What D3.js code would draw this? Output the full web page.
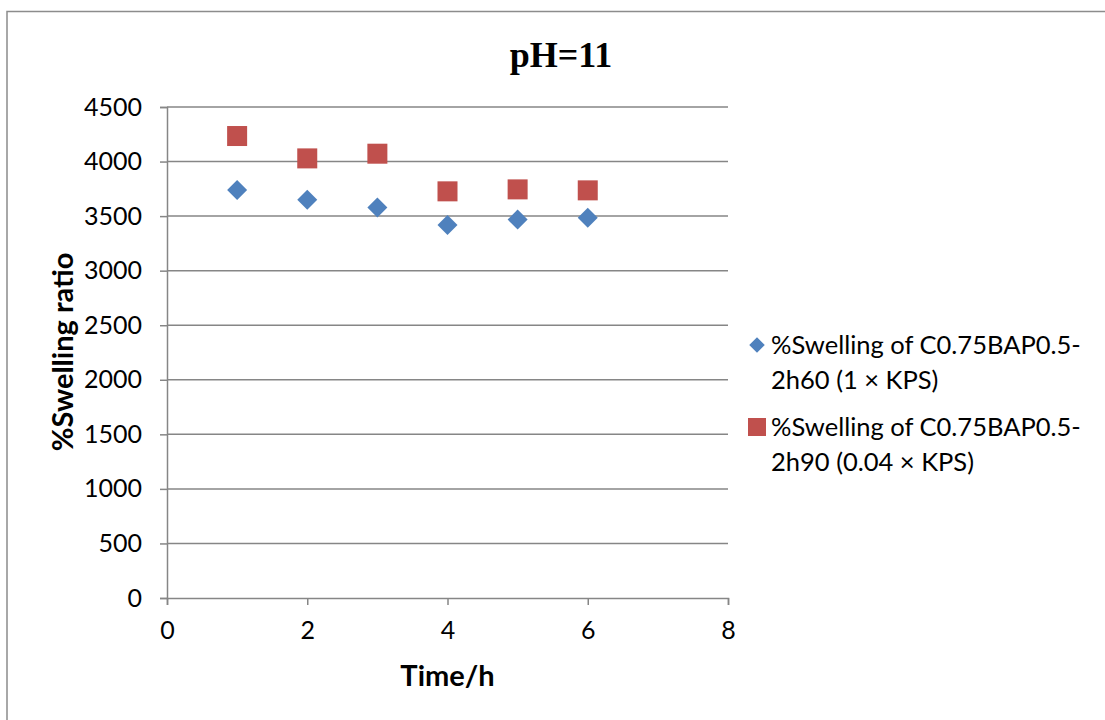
<!DOCTYPE html>
<html><head><meta charset="utf-8">
<script src="https://cdn.jsdelivr.net/npm/d3@7"></script>
<style>body{margin:0;background:#fff}svg{display:block}</style>
</head><body>
<svg id="c" width="1105" height="720"></svg>
<script>
const time = [1, 2, 3, 4, 5, 6];
const swelling60 = [3740, 3651, 3580, 3419, 3468, 3486];
const swelling90 = [4234, 4029, 4072, 3727, 3745, 3736];
const xTicks = [0, 2, 4, 6, 8];
const yTicks = [0, 500, 1000, 1500, 2000, 2500, 3000, 3500, 4000, 4500];

const svg = d3.select("#c");
const font = "Lato, 'Open Sans', sans-serif";
const blue = "#4F81BD", red = "#C0504D", grid = "#868686";

svg.append("rect").attr("x", 7).attr("y", 11.5).attr("width", 1110).attr("height", 720)
  .attr("fill", "none").attr("stroke", "#8c8c8c").attr("stroke-width", 1.5);

const x = d3.scaleLinear().domain([0, 8]).range([167, 728]);
const y = d3.scaleLinear().domain([0, 4500]).range([598, 107]);

svg.append("g").selectAll("line").data(yTicks.filter(d => d > 0)).join("line")
  .attr("x1", 167).attr("x2", 728).attr("y1", d => y(d)).attr("y2", d => y(d))
  .attr("stroke", grid).attr("stroke-width", 1.5);

const yAxis = svg.append("g").attr("transform", "translate(167,0)")
  .call(d3.axisLeft(y).tickValues(yTicks).tickFormat(d3.format("d")).tickSize(7).tickPadding(18));
const xAxis = svg.append("g").attr("transform", "translate(0,598)")
  .call(d3.axisBottom(x).tickValues(xTicks).tickFormat(d3.format("d")).tickSize(7).tickPadding(16));
[yAxis, xAxis].forEach(a => {
  a.selectAll("path, line").attr("stroke", grid).attr("stroke-width", 1.5);
  a.selectAll("text").attr("font-family", font).attr("font-size", 25).attr("fill", "#000");
});

svg.append("text").attr("x", 561).attr("y", 67).attr("text-anchor", "middle")
  .attr("font-family", "'Liberation Serif', 'Times New Roman', serif").attr("font-weight", "bold")
  .attr("font-size", 36).text("pH=11");

svg.append("text").attr("transform", "translate(73,352) rotate(-90)").attr("text-anchor", "middle")
  .attr("font-family", font).attr("font-weight", "bold").attr("font-size", 29).text("%Swelling ratio");
svg.append("text").attr("x", 447.5).attr("y", 686).attr("text-anchor", "middle")
  .attr("font-family", font).attr("font-weight", "bold").attr("font-size", 29).text("Time/h");

const diamond = d3.symbol().type(d3.symbolSquare).size(200);
svg.append("g").selectAll("path").data(time).join("path")
  .attr("d", diamond)
  .attr("transform", (d, i) => `translate(${x(d)},${y(swelling60[i])}) rotate(45)`)
  .attr("fill", blue);
svg.append("g").selectAll("rect").data(time).join("rect")
  .attr("x", d => x(d) - 10).attr("y", (d, i) => y(swelling90[i]) - 10)
  .attr("width", 20).attr("height", 20).attr("fill", red);

const leg = svg.append("g").attr("font-family", font).attr("font-size", 25.5);
leg.append("path").attr("d", d3.symbol().type(d3.symbolSquare).size(120)())
  .attr("transform", "translate(757,345) rotate(45)").attr("fill", blue);
leg.append("rect").attr("x", 748).attr("y", 418).attr("width", 18).attr("height", 18).attr("fill", red);
const lines = [
  ["%Swelling of C0.75BAP0.5-", "2h60 (1 × KPS)"],
  ["%Swelling of C0.75BAP0.5-", "2h90 (0.04 × KPS)"]
];
lines.forEach((ls, k) => {
  ls.forEach((t, j) => {
    leg.append("text").attr("x", 771).attr("y", (k ? 427 : 345) + j * 35 + 9).text(t);
  });
});
</script>
</body></html>
